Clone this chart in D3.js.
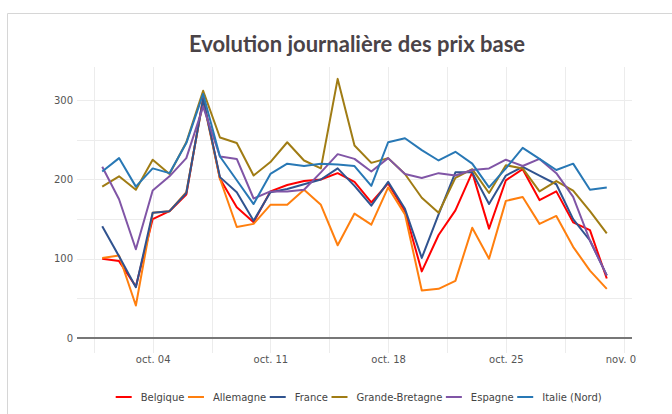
<!DOCTYPE html>
<html>
<head>
<meta charset="utf-8">
<script src="https://cdn.jsdelivr.net/npm/d3@7"></script>
<style>
	body { margin: 0; background: #fff; }
	svg { display: block; }
	text { font-family: "DejaVu Sans", Verdana, sans-serif; }
</style>
</head>
<body>
<svg id="plot" width="672" height="414"></svg>
<script>

// daily base prices, 1 -> 31 October 2021
const DAYS = d3.range(1, 32).map((d) => new Date(2021, 9, d));

const BELGIQUE = [100, 97, 65, 150, 160, 181, 303, 201, 165, 146, 185, 193, 198, 200, 208, 197, 171, 195, 160, 84, 130, 161, 209, 138, 199, 213, 174, 185, 146, 136, 75];
const ALLEMAGNE = [101, 104, 41, 158, 160, 184, 300, 201, 140, 144, 168, 168, 187, 168, 117, 157, 143, 190, 156, 60, 62, 72, 139, 100, 173, 178, 144, 154, 115, 85, 62];
const FRANCE = [141, 103, 64, 158, 160, 183, 301, 203, 184, 148, 184, 188, 194, 200, 214, 192, 167, 197, 163, 101, 156, 209, 209, 169, 205, 216, 205, 194, 150, 123, 79];
const GRANDE_BRETAGNE = [191, 204, 187, 225, 207, 247, 312, 253, 246, 205, 222, 247, 224, 214, 327, 243, 221, 227, 207, 177, 158, 202, 213, 183, 218, 214, 185, 198, 186, 160, 132];
const ESPAGNE = [216, 175, 112, 186, 204, 227, 292, 229, 226, 176, 185, 185, 187, 209, 232, 226, 210, 227, 207, 202, 208, 205, 212, 214, 225, 217, 226, 208, 178, 123, 79];
const ITALIE = [210, 227, 191, 214, 208, 246, 308, 229, 199, 169, 207, 220, 217, 220, 219, 217, 192, 247, 252, 237, 224, 235, 220, 190, 214, 240, 226, 212, 220, 187, 190];

const SERIES_NAMES = ['Belgique', 'Allemagne', 'France', 'Grande-Bretagne', 'Espagne', 'Italie (Nord)'];
const SERIES_VALUES = [BELGIQUE, ALLEMAGNE, FRANCE, GRANDE_BRETAGNE, ESPAGNE, ITALIE];
const COLORS = ['#ff0000', '#ff7f0e', '#30538f', '#a07c14', '#8055a6', '#2878b5'];

const Y_TICKS = [0, 100, 200, 300];
const Y_GRID = [50, 100, 150, 200, 250, 300];
const X_TICKS = [new Date(2021, 9, 4), new Date(2021, 9, 11), new Date(2021, 9, 18), new Date(2021, 9, 25), new Date(2021, 10, 1)];
const X_LABELS = ['oct. 04', 'oct. 11', 'oct. 18', 'oct. 25', 'nov. 01'];

const TITLE = 'Evolution journalière des prix base';

const PLOT = { left: 77, right: 632, top: 67, bottom: 353 };

const svg = d3.select('#plot');

const x = d3.scaleTime()
	.domain([new Date(2021, 8, 29, 12), new Date(2021, 10, 1, 12)])
	.range([PLOT.left, PLOT.right]);
const y = d3.scaleLinear().domain([-19, 342]).range([PLOT.bottom, PLOT.top]);

// outer frame
svg.append('path')
	.attr('d', 'M7.5,414V13.5H672')
	.attr('fill', 'none')
	.attr('stroke', '#d6d6d6');

svg.append('text')
	.attr('x', 357)
	.attr('y', 51.5)
	.attr('text-anchor', 'middle')
	.style('font-family', 'Lato, sans-serif')
	.style('font-weight', 'bold')
	.style('font-size', '22px')
	.attr('fill', '#4a4347')
	.text(TITLE);

// grid: horizontal every 50, vertical every half week
svg.append('g').selectAll('line')
	.data(Y_GRID)
	.enter().append('line')
	.attr('x1', PLOT.left).attr('x2', PLOT.right)
	.attr('y1', (d) => Math.round(y(d)) + 0.5).attr('y2', (d) => Math.round(y(d)) + 0.5)
	.attr('stroke', '#ececec');

const halfWeeks = d3.range(-1, 9).map((k) => d3.timeHour.offset(X_TICKS[0], k * 84));
svg.append('g').selectAll('line')
	.data(halfWeeks)
	.enter().append('line')
	.attr('x1', (d) => Math.round(x(d)) + 0.5).attr('x2', (d) => Math.round(x(d)) + 0.5)
	.attr('y1', PLOT.top).attr('y2', PLOT.bottom)
	.attr('stroke', '#ececec');

// zero line
svg.append('line')
	.attr('x1', PLOT.left).attr('x2', PLOT.right)
	.attr('y1', y(0)).attr('y2', y(0))
	.attr('stroke', '#777')
	.attr('stroke-width', 2);

// axes
svg.append('clipPath').attr('id', 'xclip')
	.append('rect').attr('x', 0).attr('y', 0).attr('width', 637).attr('height', 414);

const xAxis = svg.append('g')
	.attr('transform', `translate(0,${PLOT.bottom})`)
	.attr('clip-path', 'url(#xclip)')
	.call(d3.axisBottom(x).tickValues(X_TICKS).tickSize(0).tickPadding(3)
		.tickFormat((d, i) => X_LABELS[i]));

const yAxis = svg.append('g')
	.attr('transform', `translate(${PLOT.left},0)`)
	.call(d3.axisLeft(y).tickValues(Y_TICKS).tickSize(0).tickPadding(4));

[xAxis, yAxis].forEach((g) => {
	g.select('.domain').remove();
	g.selectAll('text').attr('fill', '#555').style('font-size', '10px')
		.style('font-family', '"DejaVu Sans", sans-serif');
});

// series
const line = d3.line()
	.x((d, i) => x(DAYS[i]))
	.y((d) => y(d));

svg.append('g').selectAll('path')
	.data(SERIES_VALUES)
	.enter().append('path')
	.attr('d', (d) => line(d))
	.attr('fill', 'none')
	.attr('stroke', (d, i) => COLORS[i])
	.attr('stroke-width', 2)
	.attr('stroke-linejoin', 'round');

// legend, laid out from text widths
const legend = svg.append('g').attr('transform', 'translate(0,397)');
let lx = 115.7;
SERIES_NAMES.forEach((name, i) => {
	legend.append('line')
		.attr('x1', lx).attr('x2', lx + 16)
		.attr('stroke', COLORS[i])
		.attr('stroke-width', 2);
	const t = legend.append('text')
		.attr('x', lx + 25)
		.attr('dy', '0.35em')
		.attr('fill', '#444')
		.style('font-size', '10px')
		.text(name);
	lx += 25 + t.node().getComputedTextLength() + 3.5;
});

</script>
</body>
</html>
